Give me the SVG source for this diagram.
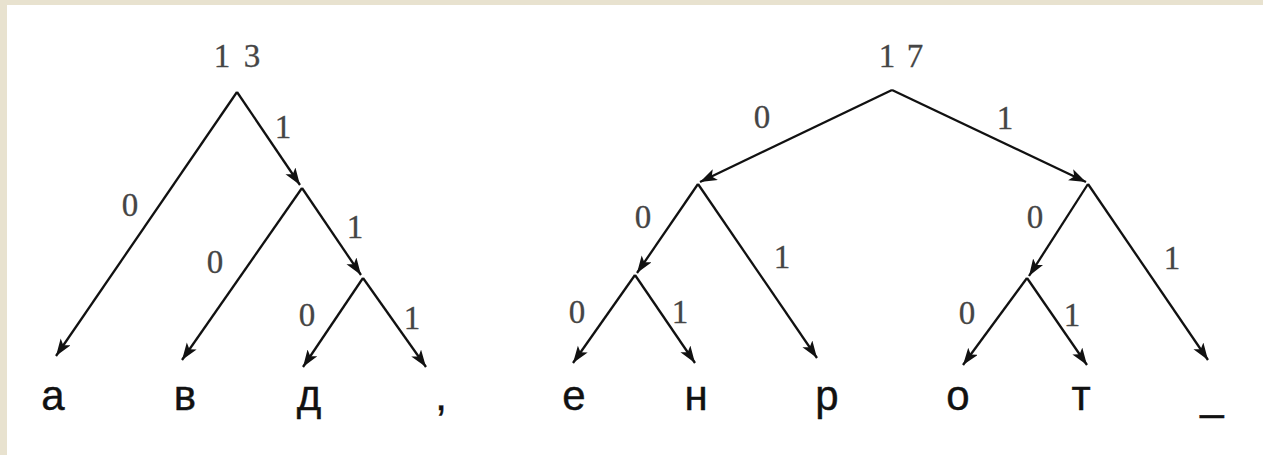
<svg xmlns="http://www.w3.org/2000/svg" width="1263" height="455" viewBox="0 0 1263 455">
<style>
.bg{fill:#E8E2CF}
.paper{fill:#FFFFFF}
.e{stroke:#111111;stroke-width:2.3;fill:none;marker-end:url(#ah)}
.lb{font-family:"Liberation Serif","Times New Roman",serif;font-size:33px;fill:#454545;text-anchor:middle;stroke:#454545;stroke-width:0.3}
.leaf{font-family:"Liberation Sans",Arial,sans-serif;font-size:42px;fill:#111111;text-anchor:middle;stroke:#111111;stroke-width:0.4}
</style>
<defs>
<marker id="ah" markerUnits="userSpaceOnUse" markerWidth="18" markerHeight="14" refX="17" refY="6" orient="auto">
<path d="M0,0 L17,6 L0,12 L4,6 z" fill="#111111"/>
</marker>
</defs>
<rect class="bg" x="0" y="0" width="1263" height="455"/>
<rect class="paper" x="7" y="5" width="1256" height="450"/>

<g id="connectors">
<!-- left tree -->
<line class="e" x1="237" y1="92" x2="56" y2="356"/>
<line class="e" x1="237" y1="92" x2="300" y2="185"/>
<line class="e" x1="302" y1="188" x2="182" y2="360"/>
<line class="e" x1="302" y1="188" x2="361" y2="275"/>
<line class="e" x1="363" y1="278" x2="303" y2="367"/>
<line class="e" x1="363" y1="278" x2="426" y2="367"/>
<!-- right tree -->
<line class="e" x1="892" y1="90" x2="700" y2="182"/>
<line class="e" x1="892" y1="90" x2="1086" y2="182"/>
<line class="e" x1="698" y1="184" x2="637" y2="273"/>
<line class="e" x1="698" y1="184" x2="817" y2="358"/>
<line class="e" x1="635" y1="275" x2="573" y2="363"/>
<line class="e" x1="635" y1="275" x2="695" y2="363"/>
<line class="e" x1="1088" y1="184" x2="1029" y2="276"/>
<line class="e" x1="1088" y1="184" x2="1208" y2="360"/>
<line class="e" x1="1027" y1="278" x2="963" y2="365"/>
<line class="e" x1="1027" y1="278" x2="1087" y2="365"/>
<!-- edge labels -->
<text class="lb" x="130" y="216">0</text>
<text class="lb" x="283" y="138">1</text>
<text class="lb" x="215" y="273">0</text>
<text class="lb" x="355" y="238">1</text>
<text class="lb" x="307" y="326">0</text>
<text class="lb" x="412" y="329">1</text>
<text class="lb" x="762" y="128">0</text>
<text class="lb" x="1005" y="129">1</text>
<text class="lb" x="643" y="228">0</text>
<text class="lb" x="782" y="268">1</text>
<text class="lb" x="577" y="323">0</text>
<text class="lb" x="680" y="323">1</text>
<text class="lb" x="1035" y="228">0</text>
<text class="lb" x="1172" y="269">1</text>
<text class="lb" x="967" y="324">0</text>
<text class="lb" x="1072" y="326">1</text>
</g>

<g id="root-13"><text class="lb" x="222 252" y="67">13</text></g>
<g id="root-17"><text class="lb" x="887 915" y="67">17</text></g>

<g id="leaf-a"><text class="leaf" x="53" y="410">а</text></g>
<g id="leaf-v"><text class="leaf" x="185" y="410">в</text></g>
<g id="leaf-d"><text class="leaf" x="309" y="410">д</text></g>
<g id="leaf-comma"><text class="leaf" x="441" y="410">,</text></g>
<g id="leaf-e"><text class="leaf" x="574" y="410">е</text></g>
<g id="leaf-n"><text class="leaf" x="696" y="410">н</text></g>
<g id="leaf-r"><text class="leaf" x="827" y="410">р</text></g>
<g id="leaf-o"><text class="leaf" x="958" y="410">о</text></g>
<g id="leaf-t"><text class="leaf" x="1081" y="410">т</text></g>
<g id="leaf-space"><text class="leaf" x="1212" y="410">_</text></g>
</svg>
